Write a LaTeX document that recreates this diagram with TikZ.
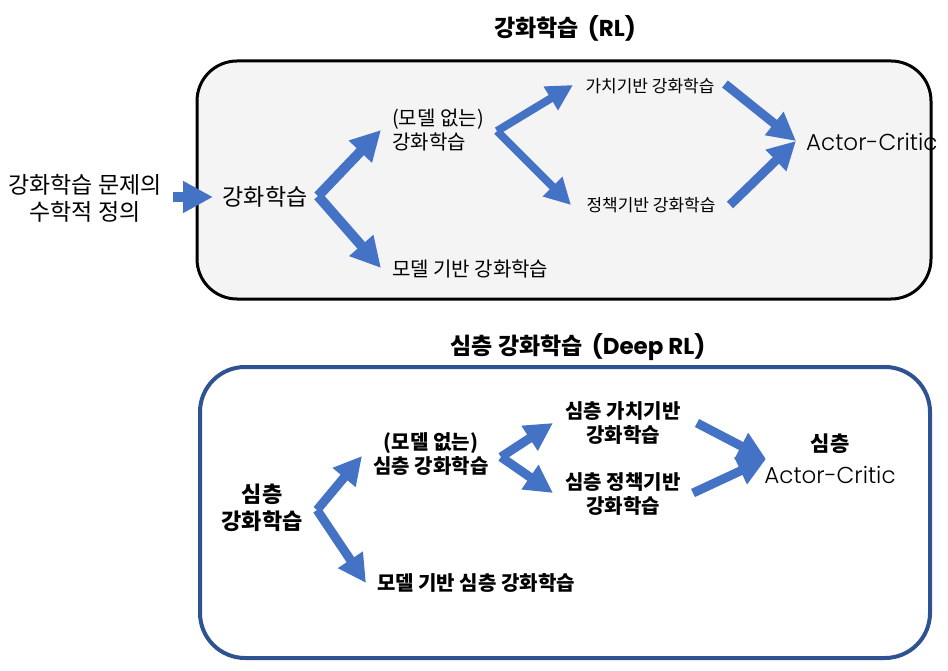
\documentclass[tikz,border=0pt]{standalone}
\usepackage{fontspec}
\setmainfont{Noto Sans CJK KR}
\newfontfamily\acfont{Poppins}[UprightFont={* Light}]
\newfontfamily\latb{Poppins}
\usetikzlibrary{arrows.meta}
\definecolor{arr}{HTML}{4472C4}
\definecolor{dblue}{HTML}{2F5293}
\definecolor{boxgray}{HTML}{F4F4F4}
\tikzset{
  txt/.style={inner sep=0pt, text=black},
  arrA/.style={draw=arr, line width=10pt, -{Triangle[length=30pt,width=30pt]}},
  arrB/.style={draw=arr, line width=8pt, -{Triangle[length=26pt,width=26pt]}},
  arrC/.style={draw=arr, line width=9pt, -{Triangle[length=28pt,width=28pt]}},
}
\begin{document}
\begin{tikzpicture}[x=1pt,y=-1pt]
\useasboundingbox (0,0) rectangle (948,671);
% boxes
\draw[line width=3pt, fill=boxgray, rounded corners=40pt] (197,61) rectangle (931,299);
\draw[line width=4pt, draw=dblue, fill=white, rounded corners=45pt] (200,367) rectangle (930,658);
% titles
\node[txt, font=\fontsize{23}{26}\selectfont\bfseries] (t1) at (565,28) {강화학습\hspace{9pt}{\latb\bfseries (RL)}};
\node[txt, font=\fontsize{23}{26}\selectfont\bfseries] (t2) at (578,347) {심층 강화학습\hspace{9pt}{\latb\bfseries (Deep RL)}};
% top texts
\node[txt, align=center, font=\fontsize{23}{27}\selectfont] (prob) at (85,198) {강화학습 문제의\\수학적 정의};
\node[txt, font=\fontsize{23}{26}\selectfont] (rl) at (265,197) {강화학습};
\node[txt, anchor=west, align=left, font=\fontsize{20}{24}\selectfont] (mf) at (392,130) {(모델 없는)\\강화학습};
\node[txt, anchor=west, font=\fontsize{20}{24}\selectfont] (mb) at (392,269) {모델 기반 강화학습};
\node[txt, font=\fontsize{17}{20}\selectfont] (vb) at (650,86) {가치기반 강화학습};
\node[txt, font=\fontsize{17}{20}\selectfont] (pb) at (651,205) {정책기반 강화학습};
\node[txt, anchor=west, font=\fontsize{23}{26}\acfont] (ac) at (806,142) {Actor-Critic};
% bottom texts
\node[txt, align=center, font=\fontsize{22}{27}\selectfont\bfseries] (drl) at (262,508) {심층\\강화학습};
\node[txt, align=center, font=\fontsize{20}{24}\selectfont\bfseries] (dmf) at (431,454) {(모델 없는)\\심층 강화학습};
\node[txt, anchor=west, font=\fontsize{20}{24}\selectfont\bfseries] (dmb) at (377,583) {모델 기반 심층 강화학습};
\node[txt, align=center, font=\fontsize{20}{24}\selectfont\bfseries] (dvb) at (623,423) {심층 가치기반\\강화학습};
\node[txt, align=center, font=\fontsize{20}{24}\selectfont\bfseries] (dpb) at (623,494) {심층 정책기반\\강화학습};
\node[txt, align=center, font=\fontsize{23}{32}\selectfont] (dac) at (830,459) {{\fontsize{21}{32}\selectfont\bfseries 심층}\\{\acfont Actor-Critic}};
% arrow points
\coordinate (p0s) at (173,197); \coordinate (p0e) at (213,197);
\coordinate (p1s) at (318,196); \coordinate (p1u) at (381,130); \coordinate (p1d) at (381,268);
\coordinate (p2s) at (497,131); \coordinate (p2u) at (573,85); \coordinate (p2d) at (571,205);
\coordinate (p3a) at (725,84); \coordinate (p3b) at (730,205); \coordinate (p3e) at (796,141);
\coordinate (q1s) at (317,510); \coordinate (q1u) at (362,456); \coordinate (q1d) at (366,583);
\coordinate (q2s) at (501,457); \coordinate (q2u) at (553,423); \coordinate (q2d) at (553,493);
\coordinate (q3a) at (697,423); \coordinate (q3b) at (693,493); \coordinate (q3e) at (766,459);
% arrows top
\draw[arrA] (p0s) -- (p0e);
\draw[arrA] (p1s) -- (p1u);
\draw[arrA] (p1s) -- (p1d);
\draw[arrB] (p2s) -- (p2u);
\draw[arrB] (p2s) -- (p2d);
\draw[arrC] (p3a) -- (p3e);
\draw[arrC] (p3b) -- (p3e);
% arrows bottom
\draw[arrC] (q1s) -- (q1u);
\draw[arrC] (q1s) -- (q1d);
\draw[arrC] (q2s) -- (q2u);
\draw[arrC] (q2s) -- (q2d);
\draw[arrC] (q3a) -- (q3e);
\draw[arrC] (q3b) -- (q3e);
\end{tikzpicture}
\end{document}
